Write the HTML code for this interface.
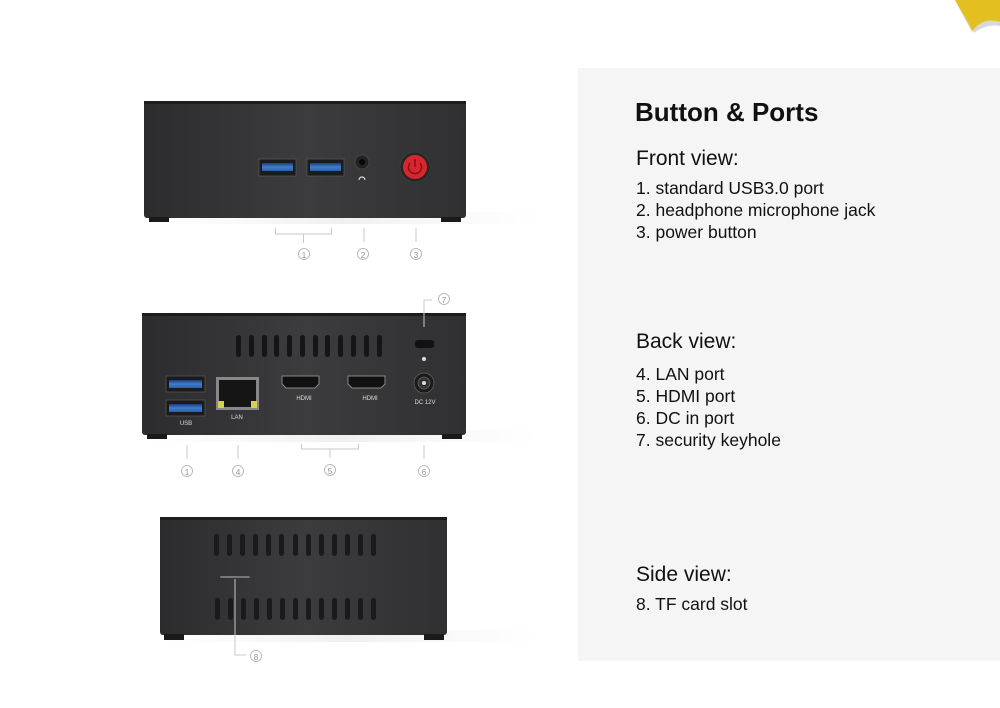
<!DOCTYPE html>
<html><head><meta charset="utf-8"><style>
html,body{margin:0;padding:0;background:#fff;width:1000px;height:708px;overflow:hidden}
svg{display:block}
text{font-family:"Liberation Sans","Noto Sans CJK SC",sans-serif}
</style></head><body>
<svg width="1000" height="708" viewBox="0 0 1000 708" xmlns="http://www.w3.org/2000/svg">
<defs>
<linearGradient id="body" x1="0" y1="0" x2="1" y2="0">
<stop offset="0" stop-color="#2c2c2e"/><stop offset="0.5" stop-color="#3c3c3e"/><stop offset="1" stop-color="#303032"/></linearGradient>
<linearGradient id="usb" x1="0" y1="0" x2="0" y2="1"><stop offset="0" stop-color="#1d3d70"/><stop offset="0.5" stop-color="#3f7fd0"/><stop offset="1" stop-color="#2c5fa8"/></linearGradient>
<linearGradient id="shadow" x1="0" y1="0" x2="1" y2="0"><stop offset="0" stop-color="#eee" stop-opacity="0"/><stop offset="0.5" stop-color="#e6e6e6"/><stop offset="1" stop-color="#eee" stop-opacity="0"/></linearGradient>
</defs>
<rect x="578" y="68" width="422" height="593" fill="#f5f5f5"/>
<path d="M955 0 L1000 0 L1000 22 C985 20 975 26 972 32 C966 20 960 10 955 0Z" fill="#e3c020"/>
<path d="M955 0 C962 14 968 24 972 32 C978 22 988 18 1000 22 L1000 26 C990 24 980 28 974 33 Z" fill="#d8d8d8"/>

<!-- FRONT -->
<rect x="144" y="212" width="400" height="12" fill="url(#shadow)" opacity="0.6"/>
<rect x="144" y="101" width="322" height="117" rx="3" fill="url(#body)"/>
<rect x="144" y="101" width="322" height="3" fill="#1c1c1e"/>
<rect x="149" y="217" width="20" height="5" fill="#1a1a1a"/>
<rect x="441" y="217" width="20" height="5" fill="#1a1a1a"/>
<rect x="259" y="159" width="37" height="17" fill="#1b1b1d" stroke="#555" stroke-width="0.8"/>
<rect x="262" y="163" width="31" height="8" fill="url(#usb)"/>
<rect x="307" y="159" width="37" height="17" fill="#1b1b1d" stroke="#555" stroke-width="0.8"/>
<rect x="310" y="163" width="31" height="8" fill="url(#usb)"/>
<circle cx="362" cy="162" r="7" fill="#222" stroke="#444"/>
<circle cx="362" cy="162" r="3" fill="#080808"/>
<path d="M359 180 a3 3 0 0 1 6 0" stroke="#ddd" stroke-width="1.2" fill="none"/>
<circle cx="415" cy="167" r="15" fill="#262628" stroke="#3a3a3a"/>
<circle cx="415" cy="167" r="12" fill="#d8262e"/>
<path d="M410 163 a6.5 6.5 0 1 0 10 0" stroke="#8a0f14" stroke-width="1.5" fill="none"/>
<line x1="415" y1="159" x2="415" y2="167" stroke="#8a0f14" stroke-width="1.5"/>
<g stroke="#c8c8c8" stroke-width="1" fill="none">
<path d="M275.5 228 V234 H331.5 V228 M303.5 234 V243"/>
<line x1="364" y1="228" x2="364" y2="242"/>
<line x1="416" y1="228" x2="416" y2="242"/>
</g>
<g fill="#999" text-anchor="middle">
<circle cx="304" cy="254" r="5.5" stroke="#aaa" fill="none" stroke-width="0.8"/><text x="304" y="258" font-size="8.5">1</text>
<circle cx="363" cy="254" r="5.5" stroke="#aaa" fill="none" stroke-width="0.8"/><text x="363" y="258" font-size="8.5">2</text>
<circle cx="416" cy="254" r="5.5" stroke="#aaa" fill="none" stroke-width="0.8"/><text x="416" y="258" font-size="8.5">3</text>
</g>

<!-- BACK -->
<rect x="142" y="430" width="400" height="12" fill="url(#shadow)" opacity="0.6"/>
<rect x="142" y="313" width="324" height="122" rx="3" fill="url(#body)"/>
<rect x="142" y="313" width="324" height="3" fill="#1c1c1e"/>
<rect x="147" y="434" width="20" height="5" fill="#1a1a1a"/>
<rect x="442" y="434" width="20" height="5" fill="#1a1a1a"/>
<g fill="#151515">
<rect x="236" y="335" width="5" height="22" rx="2.5"/><rect x="249" y="335" width="5" height="22" rx="2.5"/><rect x="262" y="335" width="5" height="22" rx="2.5"/><rect x="274" y="335" width="5" height="22" rx="2.5"/><rect x="287" y="335" width="5" height="22" rx="2.5"/><rect x="300" y="335" width="5" height="22" rx="2.5"/><rect x="313" y="335" width="5" height="22" rx="2.5"/><rect x="325" y="335" width="5" height="22" rx="2.5"/><rect x="338" y="335" width="5" height="22" rx="2.5"/><rect x="351" y="335" width="5" height="22" rx="2.5"/><rect x="364" y="335" width="5" height="22" rx="2.5"/><rect x="377" y="335" width="5" height="22" rx="2.5"/>
</g>
<rect x="415" y="340" width="19" height="8" rx="3" fill="#111"/>
<circle cx="424" cy="359" r="2" fill="#ddd"/>
<rect x="166" y="376" width="39" height="16" fill="#1b1b1d" stroke="#555" stroke-width="0.8"/>
<rect x="169" y="380" width="33" height="8" fill="url(#usb)"/>
<rect x="166" y="400" width="39" height="16" fill="#1b1b1d" stroke="#555" stroke-width="0.8"/>
<rect x="169" y="404" width="33" height="8" fill="url(#usb)"/>
<rect x="216" y="377" width="43" height="33" fill="#888"/>
<rect x="219" y="380" width="37" height="27" fill="#151515"/>
<rect x="218" y="401" width="6" height="7" fill="#d4d050"/><rect x="251" y="401" width="6" height="7" fill="#d4d050"/>
<path d="M282 376 h37 v8 l-4 4 h-29 l-4 -4z" fill="#111" stroke="#888" stroke-width="1"/>
<path d="M348 376 h37 v8 l-4 4 h-29 l-4 -4z" fill="#111" stroke="#888" stroke-width="1"/>
<circle cx="424" cy="383" r="10" fill="#1a1a1a" stroke="#555"/>
<circle cx="424" cy="383" r="6" fill="#333" stroke="#777" stroke-width="0.6"/>
<circle cx="424" cy="383" r="2" fill="#ddd"/>
<g fill="#ddd" font-size="6" text-anchor="middle">
<text x="186" y="425">USB</text><text x="237" y="419">LAN</text><text x="304" y="400">HDMI</text><text x="370" y="400">HDMI</text><text x="425" y="404">DC 12V</text>
</g>
<g stroke="#c8c8c8" stroke-width="1" fill="none">
<path d="M424 327 V300 H432"/>
<line x1="187" y1="445" x2="187" y2="459"/>
<line x1="238" y1="445" x2="238" y2="459"/>
<path d="M301.5 444 V449 H358.5 V444 M330 449 V458"/>
<line x1="424" y1="445" x2="424" y2="459"/>
</g>
<g fill="#999" text-anchor="middle" font-size="8.5">
<circle cx="444" cy="299" r="5.5" stroke="#aaa" fill="none" stroke-width="0.8"/><text x="444" y="303">7</text>
<circle cx="187" cy="471" r="5.5" stroke="#aaa" fill="none" stroke-width="0.8"/><text x="187" y="475">1</text>
<circle cx="238" cy="471" r="5.5" stroke="#aaa" fill="none" stroke-width="0.8"/><text x="238" y="475">4</text>
<circle cx="330" cy="470" r="5.5" stroke="#aaa" fill="none" stroke-width="0.8"/><text x="330" y="474">5</text>
<circle cx="424" cy="471" r="5.5" stroke="#aaa" fill="none" stroke-width="0.8"/><text x="424" y="475">6</text>
</g>

<!-- SIDE -->
<rect x="160" y="630" width="380" height="12" fill="url(#shadow)" opacity="0.6"/>
<rect x="160" y="517" width="287" height="118" rx="3" fill="url(#body)"/>
<rect x="160" y="517" width="287" height="3" fill="#1c1c1e"/>
<rect x="164" y="634" width="20" height="6" fill="#1a1a1a"/>
<rect x="424" y="634" width="20" height="6" fill="#1a1a1a"/>
<g fill="#1a1a1a">
<rect x="214" y="534" width="5" height="22" rx="2.5"/><rect x="227" y="534" width="5" height="22" rx="2.5"/><rect x="240" y="534" width="5" height="22" rx="2.5"/><rect x="253" y="534" width="5" height="22" rx="2.5"/><rect x="266" y="534" width="5" height="22" rx="2.5"/><rect x="279" y="534" width="5" height="22" rx="2.5"/><rect x="293" y="534" width="5" height="22" rx="2.5"/><rect x="306" y="534" width="5" height="22" rx="2.5"/><rect x="319" y="534" width="5" height="22" rx="2.5"/><rect x="332" y="534" width="5" height="22" rx="2.5"/><rect x="345" y="534" width="5" height="22" rx="2.5"/><rect x="358" y="534" width="5" height="22" rx="2.5"/><rect x="371" y="534" width="5" height="22" rx="2.5"/>
<rect x="215" y="598" width="5" height="22" rx="2.5"/><rect x="228" y="598" width="5" height="22" rx="2.5"/><rect x="241" y="598" width="5" height="22" rx="2.5"/><rect x="254" y="598" width="5" height="22" rx="2.5"/><rect x="267" y="598" width="5" height="22" rx="2.5"/><rect x="280" y="598" width="5" height="22" rx="2.5"/><rect x="293" y="598" width="5" height="22" rx="2.5"/><rect x="306" y="598" width="5" height="22" rx="2.5"/><rect x="319" y="598" width="5" height="22" rx="2.5"/><rect x="332" y="598" width="5" height="22" rx="2.5"/><rect x="345" y="598" width="5" height="22" rx="2.5"/><rect x="358" y="598" width="5" height="22" rx="2.5"/><rect x="371" y="598" width="5" height="22" rx="2.5"/>
</g>
<rect x="220" y="576" width="30" height="2" rx="1" fill="#777"/>
<path d="M235 579 V655 H246" stroke="#c8c8c8" stroke-width="1" fill="none"/>
<circle cx="256" cy="656" r="5.5" stroke="#aaa" fill="none" stroke-width="0.8"/><text x="256" y="660" font-size="8.5" fill="#999" text-anchor="middle">8</text>

<!-- TEXT -->
<g fill="#111">
<text x="635" y="121" font-size="26" font-weight="bold">Button &amp; Ports</text>
<text x="636" y="165" font-size="21">Front view:</text>
<text x="636" y="194" font-size="17.5">1. standard USB3.0 port</text>
<text x="636" y="216" font-size="17.5">2. headphone microphone jack</text>
<text x="636" y="238" font-size="17.5">3. power button</text>
<text x="636" y="348" font-size="21">Back view:</text>
<text x="636" y="380" font-size="17.5">4. LAN port</text>
<text x="636" y="402" font-size="17.5">5. HDMI port</text>
<text x="636" y="424" font-size="17.5">6. DC in port</text>
<text x="636" y="446" font-size="17.5">7. security keyhole</text>
<text x="636" y="581" font-size="21">Side view:</text>
<text x="636" y="610" font-size="17.5">8. TF card slot</text>
</g>
</svg>
</body></html>
